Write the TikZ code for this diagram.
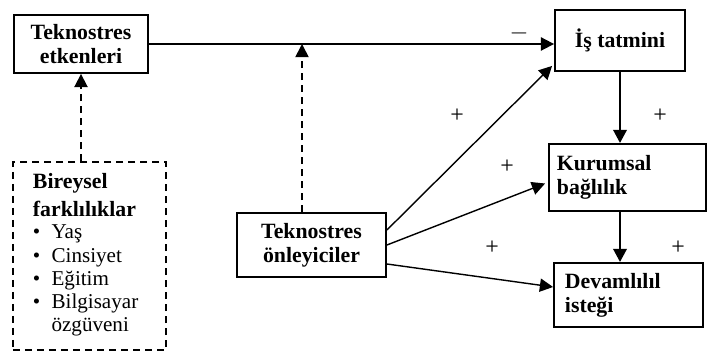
\documentclass[tikz,border=0pt]{standalone}
\usepackage{fontspec}
\setmainfont{Liberation Serif}
\usetikzlibrary{arrows.meta,calc}

\tikzset{
  kutu/.style={draw, line width=1.3pt, font=\fontsize{15.5}{17}\selectfont\bfseries, align=center, inner sep=0pt},
  ok/.style={-{Triangle[length=0.33cm,width=0.33cm]}, line width=1pt},
  kesik/.style={dash pattern=on 0.18cm off 0.12cm, line width=1.2pt},
  isaret/.style={font=\fontsize{17}{17}\selectfont, inner sep=0pt},
}

\begin{document}
\begin{tikzpicture}[x=0.025cm,y=-0.025cm]
\useasboundingbox (0,0) rectangle (707,352);

% kutular
\node[kutu, minimum width=3.35cm, minimum height=1.45cm] (etken) at (81,44) {Teknostres\\etkenleri};
\node[kutu, minimum width=3.25cm, minimum height=1.525cm] (tatmin) at (620,40.5) {İş tatmini};
\node[kutu, align=left, text width=3.525cm, inner xsep=0.2cm, minimum height=1.675cm] (bag) at (627.5,177.5) {Kurumsal\\bağlılık};
\node[kutu, align=left, text width=3.175cm, inner xsep=0.275cm, minimum height=1.6cm] (devam) at (628.5,295) {Devamlılıl\\isteği};
\node[kutu, minimum width=3.725cm, minimum height=1.6cm] (onley) at (311.5,245) {Teknostres\\önleyiciler};
\node[kutu, kesik, align=left, text width=2.825cm, inner xsep=0.5cm, minimum height=4.7cm] (birey) at (89.5,256)
  {\fontsize{15.5}{20}\selectfont Bireysel\\farklılıklar\\[-1pt]
   {\normalfont\fontsize{15}{16.5}\selectfont
   \begin{tabular}[t]{@{}l@{\hspace{0.28cm}}l@{}}
   \textbullet & Yaş\\
   \textbullet & Cinsiyet\\
   \textbullet & Eğitim\\
   \textbullet & Bilgisayar\\
               & özgüveni
   \end{tabular}}};

\coordinate (kesis) at (302,44);

% oklar
\draw[ok, line width=1.3pt] (etken.east) -- (etken.east -| tatmin.west);
\draw[ok, kesik] (onley.north -| kesis) -- (kesis);
\draw[ok, kesik] (birey.north -| etken.south) -- (etken.south);

\draw[ok] ($(onley.east)+(0,-15)$) -- ($(tatmin.south west)+(-2,-6)$);
\draw[ok] (onley.east) -- ($(bag.west)+(-3,6)$);
\draw[ok] ($(onley.east)+(0,19)$) -- ($(devam.west)+(0,-8)$);

\draw[ok, line width=2pt] (tatmin.south) -- (tatmin.south |- bag.north);
\draw[ok, line width=2pt] (bag.south -| tatmin.south) -- (tatmin.south |- devam.north);

% isaretler
\node[isaret] (eksi) at (519,33) {$-$};
\node[isaret] (arti1) at (457,116) {+};
\node[isaret] (arti2) at (660,116) {+};
\node[isaret] (arti3) at (507,167) {+};
\node[isaret] (arti4) at (492,248) {+};
\node[isaret] (arti5) at (678,248) {+};

\end{tikzpicture}
\end{document}
